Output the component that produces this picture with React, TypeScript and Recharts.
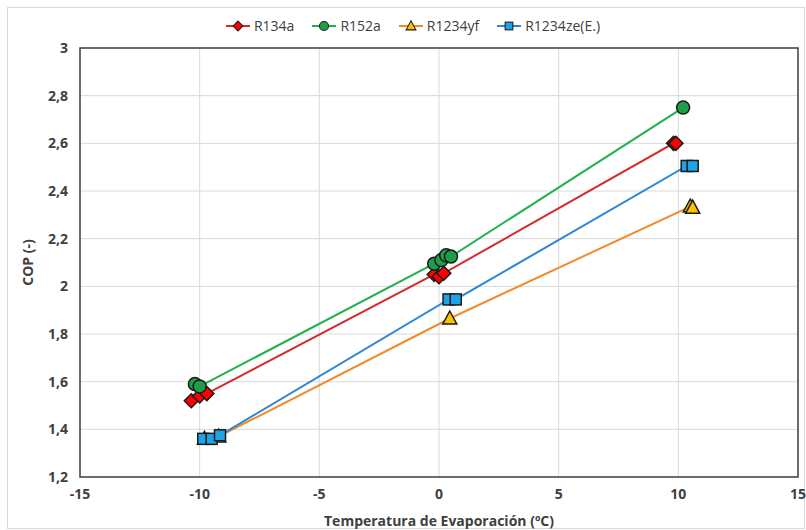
import React from 'react';
import {
  ScatterChart,
  Scatter,
  XAxis,
  YAxis,
  CartesianGrid,
  ReferenceArea,
  Label,
} from 'recharts';

// Evaporation temperature (ºC) and COP
const r134aTemp = [-10.35, -10.0, -9.7, -0.2, 0.0, 0.2, 9.8, 9.9];
const r134aCop = [1.52, 1.54, 1.55, 2.05, 2.04, 2.055, 2.6, 2.6];

const r152aTemp = [-10.2, -10.0, -0.2, 0.1, 0.3, 0.5, 10.2];
const r152aCop = [1.59, 1.58, 2.095, 2.11, 2.13, 2.125, 2.75];

const r1234yfTemp = [-9.8, -9.2, 0.45, 10.5, 10.6];
const r1234yfCop = [1.36, 1.37, 1.865, 2.335, 2.33];

const r1234zeTemp = [-9.85, -9.5, -9.15, 0.4, 0.7, 10.35, 10.6];
const r1234zeCop = [1.36, 1.36, 1.375, 1.945, 1.945, 2.505, 2.505];

const tempTicks = [-15, -10, -5, 0, 5, 10, 15];
const copTicks = [1.2, 1.4, 1.6, 1.8, 2, 2.2, 2.4, 2.6, 2.8, 3];

const FONT = '"Open Sans", "Noto Sans", sans-serif';
const TEXT = '#404040';

const toPoints = (xs: number[], ys: number[]) => xs.map((x, i) => ({ x, y: ys[i] }));

type MarkerKind = 'diamond' | 'circle' | 'triangle' | 'square';

const Marker = ({ kind, cx, cy, fill }: { kind: MarkerKind; cx: number; cy: number; fill: string }) => {
  const stroke = '#1a1a1a';
  if (kind === 'diamond') {
    return (
      <path
        d={`M${cx},${cy - 7} L${cx + 7},${cy} L${cx},${cy + 7} L${cx - 7},${cy} Z`}
        fill={fill}
        stroke={stroke}
        strokeWidth={1.5}
      />
    );
  }
  if (kind === 'circle') {
    return <circle cx={cx} cy={cy} r={6.5} fill={fill} stroke={stroke} strokeWidth={1.5} />;
  }
  if (kind === 'triangle') {
    return (
      <path
        d={`M${cx},${cy - 7.5} L${cx + 7},${cy + 5.5} L${cx - 7},${cy + 5.5} Z`}
        fill={fill}
        stroke={stroke}
        strokeWidth={1.5}
      />
    );
  }
  return <rect x={cx - 5.5} y={cy - 5.5} width={11} height={11} fill={fill} stroke={stroke} strokeWidth={1.5} />;
};

const SERIES = [
  { name: 'R134a', data: toPoints(r134aTemp, r134aCop), line: '#d42a2a', fill: '#ff0000', kind: 'diamond' as MarkerKind },
  { name: 'R152a', data: toPoints(r152aTemp, r152aCop), line: '#22b04b', fill: '#1e9e46', kind: 'circle' as MarkerKind },
  { name: 'R1234yf', data: toPoints(r1234yfTemp, r1234yfCop), line: '#f18a2b', fill: '#ffc000', kind: 'triangle' as MarkerKind },
  { name: 'R1234ze(E.)', data: toPoints(r1234zeTemp, r1234zeCop), line: '#2e86d4', fill: '#1fa3e8', kind: 'square' as MarkerKind },
];

const formatCop = (v: number) => String(Number(v.toFixed(1))).replace('.', ',');

const LegendRow = () => (
  <div
    style={{
      position: 'absolute',
      top: 16,
      left: 0,
      width: 826,
      display: 'flex',
      justifyContent: 'center',
      gap: 18,
      fontFamily: FONT,
      fontSize: 14,
      color: TEXT,
    }}
  >
    {SERIES.map((s) => (
      <div key={s.name} style={{ display: 'flex', alignItems: 'center', gap: 4 }}>
        <svg width={24} height={16}>
          <line x1={0} y1={8} x2={24} y2={8} stroke={s.line} strokeWidth={2} />
          <g transform="translate(12,8) scale(0.7) translate(-12,-8)">
            <Marker kind={s.kind} cx={12} cy={8} fill={s.fill} />
          </g>
        </svg>
        <span>{s.name}</span>
      </div>
    ))}
  </div>
);

export default function App() {
  return (
    <div style={{ position: 'absolute', left: 0, top: 0, width: 806, height: 530, background: '#fff' }}>
      <div
        style={{
          position: 'absolute',
          left: 7,
          top: 7,
          width: 796,
          height: 520,
          border: '1px solid #d9d9d9',
        }}
      />
      <LegendRow />
      <div style={{ position: 'absolute', left: 0, top: 0 }}>
        <ScatterChart width={806} height={530} margin={{ top: 48, right: 8, left: 0, bottom: 0 }}>
          <CartesianGrid stroke="#d9d9d9" strokeWidth={1} />
          <XAxis
            type="number"
            dataKey="x"
            domain={[-15, 15]}
            ticks={tempTicks}
            allowDataOverflow
            height={53}
            axisLine={false}
            tickLine={false}
            tickSize={6}
            tickMargin={6}
            tick={{ fill: TEXT, fontSize: 14, fontWeight: 700, fontFamily: FONT }}
          >
            <Label
              value="Temperatura de Evaporación (ºC)"
              position="insideBottom"
              offset={4}
              style={{ fill: TEXT, fontSize: 14, fontWeight: 700, fontFamily: FONT }}
            />
          </XAxis>
          <YAxis
            type="number"
            dataKey="y"
            domain={[1.2, 3]}
            ticks={copTicks}
            allowDataOverflow
            width={80}
            axisLine={false}
            tickLine={false}
            tickSize={6}
            tickMargin={6}
            tickFormatter={formatCop}
            tick={{ fill: TEXT, fontSize: 14, fontWeight: 700, fontFamily: FONT }}
          >
            <Label
              value="COP (-)"
              angle={-90}
              position="insideLeft"
              offset={28}
              style={{ fill: TEXT, fontSize: 14, fontWeight: 700, fontFamily: FONT, textAnchor: 'middle' }}
            />
          </YAxis>
          <ReferenceArea x1={-15} x2={15} y1={1.2} y2={3} fill="none" stroke="#404040" strokeWidth={1.5} />
          {SERIES.map((s) => (
            <Scatter
              key={s.name}
              name={s.name}
              data={s.data}
              line={{ stroke: s.line, strokeWidth: 2 }}
              lineJointType="linear"
              isAnimationActive={false}
              shape={(props: any) => <Marker kind={s.kind} cx={props.cx} cy={props.cy} fill={s.fill} />}
            />
          ))}
        </ScatterChart>
      </div>
    </div>
  );
}
